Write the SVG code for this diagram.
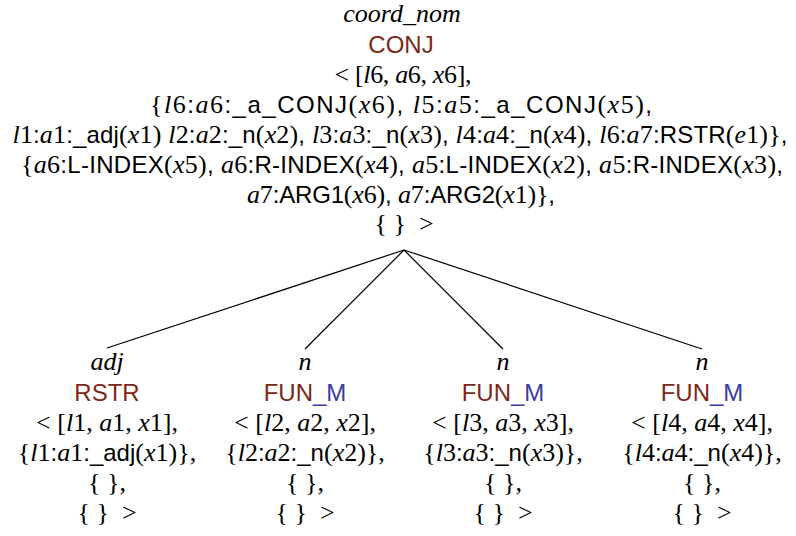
<svg xmlns="http://www.w3.org/2000/svg" width="796" height="536" viewBox="0 0 796 536">
<style>
.t{font-family:"Liberation Sans",Arial,sans-serif;font-size:24px;fill:#000;text-anchor:middle}
.i{font-family:"Liberation Serif","Times New Roman",serif;font-style:italic;font-size:26px}
.r{font-family:"Liberation Serif","Times New Roman",serif;font-size:26px}
.br{fill:#7d2817}
.bl{fill:#3b3ba6}
.edge{stroke:#000;stroke-width:1.2;fill:none}
</style>
<rect width="796" height="536" fill="#fff"/>
<g id="connectors">
<line class="edge" x1="404" y1="250" x2="107" y2="348"/>
<line class="edge" x1="404" y1="250" x2="305" y2="349"/>
<line class="edge" x1="404" y1="250" x2="503" y2="349"/>
<line class="edge" x1="404" y1="250" x2="702" y2="349"/>
</g>
<g id="node-root">
<text class="t" x="402" y="22"><tspan class="i">coord_nom</tspan></text>
<text class="t br" x="401" y="53">CONJ</text>
<text class="t" x="403" y="83" textLength="137" lengthAdjust="spacing"><tspan class="r">&lt; [</tspan><tspan class="i">l</tspan><tspan class="r">6, </tspan><tspan class="i">a</tspan><tspan class="r">6, </tspan><tspan class="i">x</tspan><tspan class="r">6],</tspan></text>
<text class="t" x="401" y="113" textLength="502" lengthAdjust="spacing"><tspan class="r">{</tspan><tspan class="i">l</tspan><tspan class="r">6</tspan>:<tspan class="i">a</tspan><tspan class="r">6</tspan>:_a_CONJ<tspan class="r">(</tspan><tspan class="i">x</tspan><tspan class="r">6)</tspan>, <tspan class="i">l</tspan><tspan class="r">5</tspan>:<tspan class="i">a</tspan><tspan class="r">5</tspan>:_a_CONJ<tspan class="r">(</tspan><tspan class="i">x</tspan><tspan class="r">5)</tspan>,</text>
<text class="t" x="400" y="143" textLength="775" lengthAdjust="spacing"><tspan class="i">l</tspan><tspan class="r">1</tspan>:<tspan class="i">a</tspan><tspan class="r">1</tspan>:_adj<tspan class="r">(</tspan><tspan class="i">x</tspan><tspan class="r">1)</tspan> <tspan class="i">l</tspan><tspan class="r">2</tspan>:<tspan class="i">a</tspan><tspan class="r">2</tspan>:_n<tspan class="r">(</tspan><tspan class="i">x</tspan><tspan class="r">2)</tspan>, <tspan class="i">l</tspan><tspan class="r">3</tspan>:<tspan class="i">a</tspan><tspan class="r">3</tspan>:_n<tspan class="r">(</tspan><tspan class="i">x</tspan><tspan class="r">3)</tspan>, <tspan class="i">l</tspan><tspan class="r">4</tspan>:<tspan class="i">a</tspan><tspan class="r">4</tspan>:_n<tspan class="r">(</tspan><tspan class="i">x</tspan><tspan class="r">4)</tspan>, <tspan class="i">l</tspan><tspan class="r">6</tspan>:<tspan class="i">a</tspan><tspan class="r">7</tspan>:RSTR<tspan class="r">(</tspan><tspan class="i">e</tspan><tspan class="r">1)}</tspan>,</text>
<text class="t" x="402" y="173" textLength="762" lengthAdjust="spacing"><tspan class="r">{</tspan><tspan class="i">a</tspan><tspan class="r">6</tspan>:L-INDEX<tspan class="r">(</tspan><tspan class="i">x</tspan><tspan class="r">5)</tspan>, <tspan class="i">a</tspan><tspan class="r">6</tspan>:R-INDEX<tspan class="r">(</tspan><tspan class="i">x</tspan><tspan class="r">4)</tspan>, <tspan class="i">a</tspan><tspan class="r">5</tspan>:L-INDEX<tspan class="r">(</tspan><tspan class="i">x</tspan><tspan class="r">2)</tspan>, <tspan class="i">a</tspan><tspan class="r">5</tspan>:R-INDEX<tspan class="r">(</tspan><tspan class="i">x</tspan><tspan class="r">3)</tspan>,</text>
<text class="t" x="401" y="203" textLength="308" lengthAdjust="spacing"><tspan class="i">a</tspan><tspan class="r">7</tspan>:ARG1<tspan class="r">(</tspan><tspan class="i">x</tspan><tspan class="r">6)</tspan>, <tspan class="i">a</tspan><tspan class="r">7</tspan>:ARG2<tspan class="r">(</tspan><tspan class="i">x</tspan><tspan class="r">1)}</tspan>,</text>
<text class="t" x="404" y="232"><tspan class="r">{&#160;}&#160;&#160;&gt;</tspan></text>
</g>
<g id="node-adj">
<text class="t" x="107" y="370"><tspan class="i">adj</tspan></text>
<text class="t br" x="107" y="401">RSTR</text>
<text class="t" x="107" y="431"><tspan class="r">&lt; [</tspan><tspan class="i">l</tspan><tspan class="r">1, </tspan><tspan class="i">a</tspan><tspan class="r">1, </tspan><tspan class="i">x</tspan><tspan class="r">1],</tspan></text>
<text class="t" x="107" y="461"><tspan class="r">{</tspan><tspan class="i">l</tspan><tspan class="r">1</tspan>:<tspan class="i">a</tspan><tspan class="r">1</tspan>:_adj<tspan class="r">(</tspan><tspan class="i">x</tspan><tspan class="r">1)},</tspan></text>
<text class="t" x="107" y="491"><tspan class="r">{&#160;},</tspan></text>
<text class="t" x="107" y="521"><tspan class="r">{&#160;}&#160;&#160;&gt;</tspan></text>
</g>
<g id="node-n2">
<text class="t" x="305" y="370"><tspan class="i">n</tspan></text>
<text class="t br" x="305" y="401">FUN<tspan class="bl">_M</tspan></text>
<text class="t" x="305" y="431"><tspan class="r">&lt; [</tspan><tspan class="i">l</tspan><tspan class="r">2, </tspan><tspan class="i">a</tspan><tspan class="r">2, </tspan><tspan class="i">x</tspan><tspan class="r">2],</tspan></text>
<text class="t" x="305" y="461"><tspan class="r">{</tspan><tspan class="i">l</tspan><tspan class="r">2</tspan>:<tspan class="i">a</tspan><tspan class="r">2</tspan>:_n<tspan class="r">(</tspan><tspan class="i">x</tspan><tspan class="r">2)},</tspan></text>
<text class="t" x="305" y="491"><tspan class="r">{&#160;},</tspan></text>
<text class="t" x="305" y="521"><tspan class="r">{&#160;}&#160;&#160;&gt;</tspan></text>
</g>
<g id="node-n3">
<text class="t" x="503" y="370"><tspan class="i">n</tspan></text>
<text class="t br" x="503" y="401">FUN<tspan class="bl">_M</tspan></text>
<text class="t" x="503" y="431"><tspan class="r">&lt; [</tspan><tspan class="i">l</tspan><tspan class="r">3, </tspan><tspan class="i">a</tspan><tspan class="r">3, </tspan><tspan class="i">x</tspan><tspan class="r">3],</tspan></text>
<text class="t" x="503" y="461"><tspan class="r">{</tspan><tspan class="i">l</tspan><tspan class="r">3</tspan>:<tspan class="i">a</tspan><tspan class="r">3</tspan>:_n<tspan class="r">(</tspan><tspan class="i">x</tspan><tspan class="r">3)},</tspan></text>
<text class="t" x="503" y="491"><tspan class="r">{&#160;},</tspan></text>
<text class="t" x="503" y="521"><tspan class="r">{&#160;}&#160;&#160;&gt;</tspan></text>
</g>
<g id="node-n4">
<text class="t" x="702" y="370"><tspan class="i">n</tspan></text>
<text class="t br" x="702" y="401">FUN<tspan class="bl">_M</tspan></text>
<text class="t" x="702" y="431"><tspan class="r">&lt; [</tspan><tspan class="i">l</tspan><tspan class="r">4, </tspan><tspan class="i">a</tspan><tspan class="r">4, </tspan><tspan class="i">x</tspan><tspan class="r">4],</tspan></text>
<text class="t" x="702" y="461"><tspan class="r">{</tspan><tspan class="i">l</tspan><tspan class="r">4</tspan>:<tspan class="i">a</tspan><tspan class="r">4</tspan>:_n<tspan class="r">(</tspan><tspan class="i">x</tspan><tspan class="r">4)},</tspan></text>
<text class="t" x="702" y="491"><tspan class="r">{&#160;},</tspan></text>
<text class="t" x="702" y="521"><tspan class="r">{&#160;}&#160;&#160;&gt;</tspan></text>
</g>
</svg>
